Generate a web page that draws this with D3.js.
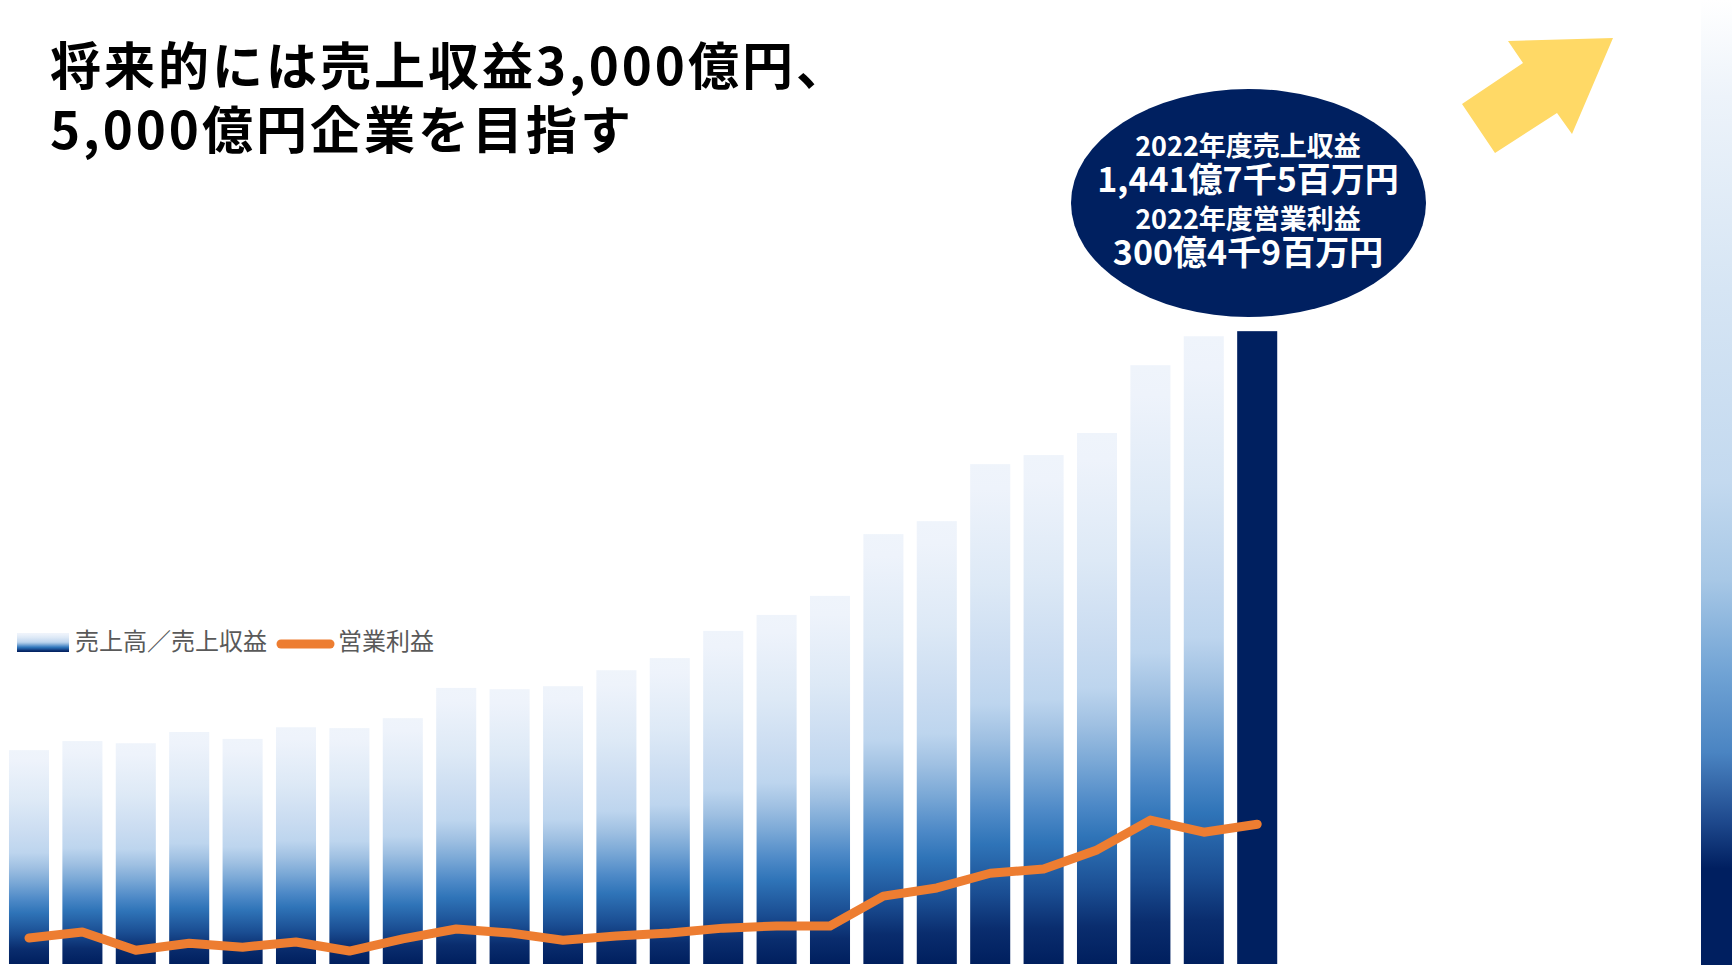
<!DOCTYPE html>
<html>
<head>
<meta charset="utf-8">
<script src="https://cdn.jsdelivr.net/npm/d3@7"></script>
<style>
    html, body { margin: 0; padding: 0; background: #fff; }
    svg { display: block; font-family: "Noto Sans CJK JP", "Noto Sans", sans-serif; }
</style>
</head>
<body>
<svg></svg>
<script>
// fiscal years, one bar each
const years = d3.range(1999, 2023).map(String);
// 売上高／売上収益 (億円)
const revenue = [472, 493, 488, 514, 498, 525, 523, 546, 616, 613, 620, 657,
    685, 748, 785, 829, 972, 1002, 1134, 1155, 1206, 1363, 1430, 1441.75];
// 営業利益 (億円)
const profit = [37, 51, 9, 25, 16, 28, 7, 35, 58, 49, 32, 42,
    49, 60, 65, 65, 134, 153, 187, 197, 241, 310, 282, 300.49];
const titleLines = ["将来的には売上収益3,000億円、", "5,000億円企業を目指す"];
const bubbleLines = ["2022年度売上収益", "1,441億7千5百万円", "2022年度営業利益", "300億4千9百万円"];
const legendLabels = ["売上高／売上収益", "営業利益"];

const width = 1732;
const height = 965;

const svg = d3.select("svg")
    .attr("width", width)
    .attr("height", height)
    .attr("viewBox", [0, 0, width, height]);

let defs = svg.append("defs");
let barGrad = defs.append("linearGradient")
    .attr("id", "barGrad")
    .attr("x1", 0).attr("y1", 0).attr("x2", 0).attr("y2", 1);
[[0, "#eff4fb"], [0.05, "#eef3fb"], [0.24, "#dde9f6"], [0.39, "#cadcf1"], [0.48, "#bdd5ee"],
    [0.55, "#9fc0e2"], [0.62, "#7aa8d6"], [0.70, "#4d89c7"], [0.76, "#2f74b8"],
    [0.86, "#1a4d92"], [0.93, "#0a2d6e"], [1, "#001f5e"]]
    .forEach(s => barGrad.append("stop").attr("offset", s[0]).attr("stop-color", s[1]));
let sideGrad = defs.append("linearGradient")
    .attr("id", "sideGrad")
    .attr("x1", 0).attr("y1", 0).attr("x2", 0).attr("y2", 1);
[[0, "#ffffff"], [0.1, "#edf3fa"], [0.3, "#d6e5f4"], [0.5, "#c3d9ef"], [0.6, "#a8c8e6"],
    [0.7, "#6fa2d4"], [0.78, "#4a84c2"], [0.85, "#1f4a8e"], [0.9, "#001f60"], [1, "#001f60"]]
    .forEach(s => sideGrad.append("stop").attr("offset", s[0]).attr("stop-color", s[1]));

let x = d3.scaleBand()
    .domain(years)
    .range([2.3, 1283.9])
    .paddingInner(0.25)
    .paddingOuter(0.125);
let y = d3.scaleLinear()
    .domain([-23, 1500])
    .range([964, 306]);

// right edge strip
svg.append("rect")
    .attr("x", 1701)
    .attr("y", 0)
    .attr("width", width - 1701)
    .attr("height", height)
    .attr("fill", "url(#sideGrad)");

// bars
svg.append("g")
    .selectAll("rect")
    .data(years)
    .join("rect")
    .attr("x", d => x(d))
    .attr("width", x.bandwidth())
    .attr("y", (d, i) => y(revenue[i]))
    .attr("height", (d, i) => y(y.domain()[0]) - y(revenue[i]))
    .attr("fill", (d, i) => i === years.length - 1 ? "#002060" : "url(#barGrad)");

// operating profit line
let line = d3.line()
    .x((d, i) => x(years[i]) + x.bandwidth() / 2)
    .y(d => y(d));
svg.append("path")
    .datum(profit)
    .attr("d", line)
    .attr("fill", "none")
    .attr("stroke", "#ed7d31")
    .attr("stroke-width", 9)
    .attr("stroke-linecap", "round")
    .attr("stroke-linejoin", "round");

// legend
let legend = svg.append("g");
legend.append("rect")
    .attr("x", 17).attr("y", 633)
    .attr("width", 52).attr("height", 19)
    .attr("fill", "url(#barGrad)");
legend.append("text")
    .attr("x", 75).attr("y", 650)
    .attr("font-size", 24)
    .attr("fill", "#595959")
    .text(legendLabels[0]);
legend.append("line")
    .attr("x1", 281).attr("x2", 330)
    .attr("y1", 644).attr("y2", 644)
    .attr("stroke", "#ed7d31")
    .attr("stroke-width", 9)
    .attr("stroke-linecap", "round");
legend.append("text")
    .attr("x", 338).attr("y", 650)
    .attr("font-size", 24)
    .attr("fill", "#595959")
    .text(legendLabels[1]);

// title
svg.append("g")
    .selectAll("text")
    .data(titleLines)
    .join("text")
    .attr("x", 50)
    .attr("y", (d, i) => 85 + i * 64)
    .attr("font-size", 51)
    .attr("font-weight", 700)
    .attr("letter-spacing", 3)
    .attr("fill", "#000")
    .text(d => d);

// 2022 bubble
let bubble = svg.append("g");
bubble.append("ellipse")
    .attr("cx", 1248.5).attr("cy", 203)
    .attr("rx", 177.5).attr("ry", 114)
    .attr("fill", "#002060");
bubble.selectAll("text")
    .data(bubbleLines)
    .join("text")
    .attr("x", 1248)
    .attr("y", (d, i) => [156, 192, 229, 265][i])
    .attr("text-anchor", "middle")
    .attr("font-size", (d, i) => i % 2 === 0 ? 27 : 34)
    .attr("font-weight", 700)
    .attr("fill", "#fff")
    .text(d => d);

// growth arrow
svg.append("polygon")
    .attr("points", [[1462, 104], [1523, 63], [1508, 41], [1613, 38], [1572, 134], [1557, 113], [1495, 153]]
        .map(p => p.join(",")).join(" "))
    .attr("fill", "#ffd966");
</script>
</body>
</html>
